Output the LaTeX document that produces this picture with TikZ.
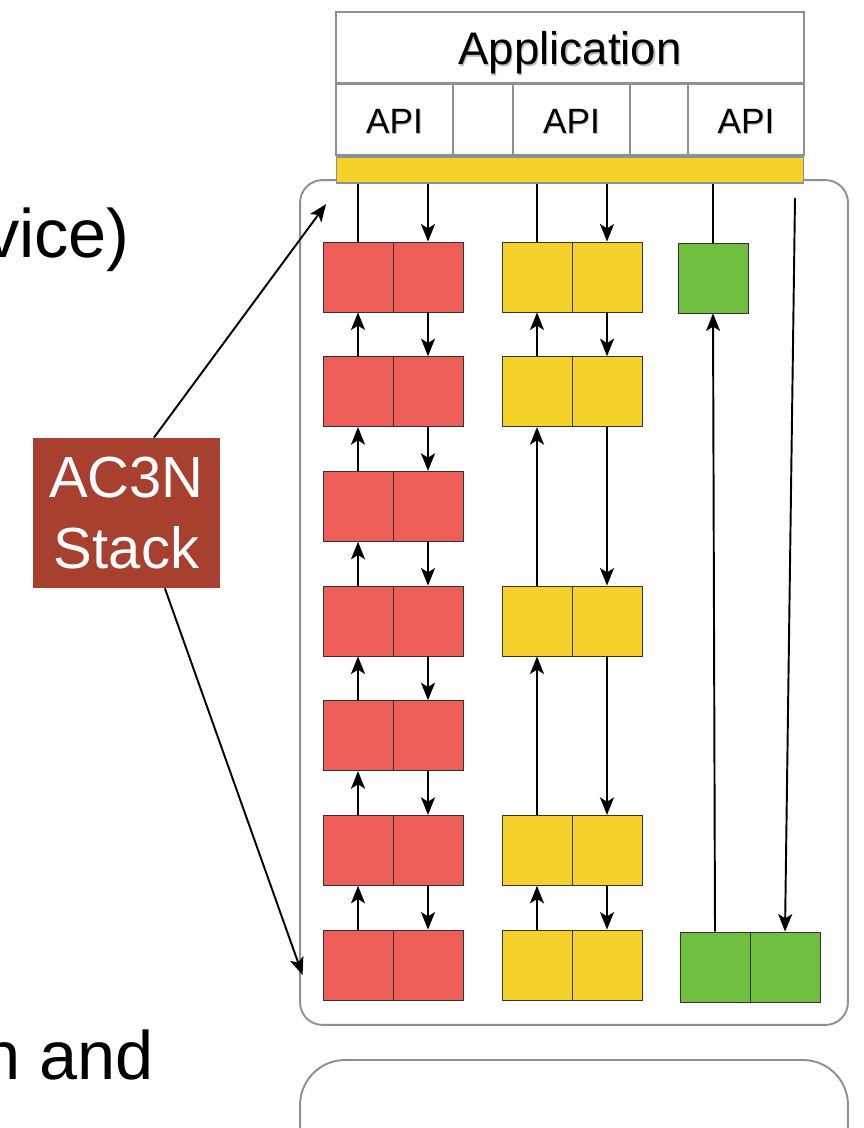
\documentclass[tikz,border=0pt]{standalone}
\usepackage{fontspec}
\setmainfont{Liberation Sans}
\usepackage{xcolor}
\definecolor{stackred}{RGB}{168,64,47}
\definecolor{cellred}{RGB}{236,94,87}
\definecolor{cellyellow}{RGB}{245,210,41}
\definecolor{cellgreen}{RGB}{112,191,65}
\definecolor{framegray}{RGB}{142,144,147}
\usepackage{tikz}
\usetikzlibrary{arrows.meta, positioning, calc}

\begin{document}
\begin{tikzpicture}[x=0.02cm, y=-0.02cm,
  cell/.style={draw=framegray, line width=1.1pt, fill=white, inner sep=0pt,
    minimum height=1.42cm, font=\fontsize{20}{20}\selectfont},
  layer/.style={draw=black!80, line width=0.5pt, inner sep=0pt,
    minimum width=1.4cm, minimum height=1.4cm},
  redbox/.style={layer, fill=cellred},
  yellowbox/.style={layer, fill=cellyellow},
  greenbox/.style={layer, fill=cellgreen},
  wire/.style={black, line width=1.1pt},
  link/.style={wire, -{Stealth[length=10pt, width=8pt, inset=2.5pt]}},
  slide/.style={anchor=base east, font=\fontsize{39}{39}\selectfont}]

\useasboundingbox (0,0) rectangle (864,1128);
\clip (0,0) rectangle (864,1128);

% === Slide text cut at the left edge ===
\node[slide] (vice) at (136,258) {vice)};
\node[slide] (nand) at (160,1079) {n and};

% === Stack frames ===
\node[draw=framegray, line width=1.1pt, rounded corners=0.45cm,
      minimum width=10.96cm, minimum height=16.9cm] (frame) at (574,602.5) {};
\node[draw=framegray, line width=1.1pt, rounded corners=0.9cm,
      minimum width=10.96cm, minimum height=2.2cm] (lower) at (574,1115) {};

% === Application and APIs ===
\node[cell, minimum width=9.36cm] (app) at (570,47.5) {};
\node[font=\fontsize{26}{26}\selectfont, black!25] at ($(app)+(1.2,7)$) {Application};
\node[font=\fontsize{26}{26}\selectfont] at ($(app)+(0,5)$) {Application};
\node[cell, minimum width=2.34cm] (api1) at (394.5,119.5) {};
\node[cell, minimum width=1.2cm]  (gap1) at (483,119.5) {};
\node[cell, minimum width=2.34cm] (api2) at (571.5,119.5) {};
\node[cell, minimum width=1.16cm] (gap2) at (659,119.5) {};
\node[cell, minimum width=2.32cm] (api3) at (746,119.5) {};
\foreach \n in {api1,api2,api3} {
  \node[font=\fontsize{20}{20}\selectfont, black!25] at ($(\n)+(1,3)$) {API};
  \node[font=\fontsize{20}{20}\selectfont] at ($(\n)+(0,1.5)$) {API};
}
\node[draw=framegray, line width=0.6pt, fill=cellyellow, inner sep=0pt,
      minimum width=9.36cm, minimum height=0.52cm] (bus) at (570,170) {};

% === Layer boxes ===
\foreach \i in {0,...,6} {
  \node[redbox] (rl\i) at (358,{277+114.67*\i}) {};
  \node[redbox] (rr\i) at (428,{277+114.67*\i}) {};
}
\foreach \i in {0,1,3,5,6} {
  \node[yellowbox] (yl\i) at (537,{277+114.67*\i}) {};
  \node[yellowbox] (yr\i) at (607,{277+114.67*\i}) {};
}
\node[greenbox] (g0) at (713,278) {};
\node[greenbox] (gl6) at (715,967) {};
\node[greenbox] (gr6) at (785,967) {};

% bus down to the top layer
\draw[wire] (rl0.north |- bus.south) -- (rl0.north);
\draw[link] (rr0.north |- bus.south) -- (rr0.north);
\draw[wire] (yl0.north |- bus.south) -- (yl0.north);
\draw[link] (yr0.north |- bus.south) -- (yr0.north);
\draw[wire] (g0.north |- bus.south) -- (g0.north);

% up and down the layers
\foreach \a [evaluate=\a as \b using int(\a+1)] in {0,...,5} {
  \draw[link] (rl\b.north) -- (rl\a.south);
  \draw[link] (rr\a.south) -- (rr\b.north);
}
\foreach \a/\b in {0/1,1/3,3/5,5/6} {
  \draw[link] (yl\b.north) -- (yl\a.south);
  \draw[link] (yr\a.south) -- (yr\b.north);
}
\draw[link] (gl6.north) -- (g0.south);
\coordinate (gdrop) at (795,198);
\draw[link] (gdrop) -- (gr6.north);

% === AC3N Stack label ===
\node[fill=stackred, text=white, inner sep=0pt, minimum width=3.74cm,
      minimum height=3cm, align=center, font=\fontsize{33}{40}\selectfont]
     (stack) at (126.5,513) {AC3N\\Stack};
\draw[link] (stack.70) -- ($(frame.north west)+(27,25)$);
\draw[link] (stack.-63) -- ($(rl6.west)+(-20,10)$);

\end{tikzpicture}
\end{document}
